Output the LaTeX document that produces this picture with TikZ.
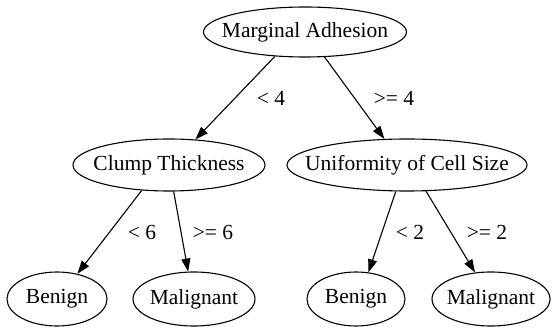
\documentclass[tikz,border=0pt]{standalone}
\usepackage{fontspec}
\setmainfont{Liberation Serif}
\usetikzlibrary{shapes.geometric,arrows.meta}
\begin{document}
\begin{tikzpicture}[x=1pt,y=-1pt,
  every node/.style={font=\fontsize{21.5}{24}\selectfont},
  tnode/.style={draw,ellipse,line width=1.1pt,inner sep=0pt,minimum height=#1},
  tnode/.default=52pt,
  edge/.style={line width=1.1pt,-{Triangle[length=13pt,width=9pt]}},
  lbl/.style={inner sep=0pt}]
\useasboundingbox (0,0) rectangle (552,328);
\node[tnode=50pt,minimum width=203pt] (root) at (305,32) {\makebox[0pt]{Marginal Adhesion}};
\node[tnode,minimum width=192pt] (clump) at (169,165) {\makebox[0pt]{Clump Thickness}};
\node[tnode,minimum width=240pt] (unif) at (407,165) {\makebox[0pt]{Uniformity of Cell Size}};
\node[tnode=54pt,minimum width=100pt] (benL) at (57,299) {\makebox[0pt]{Benign}};
\node[tnode=54pt,minimum width=122pt] (malL) at (194,299) {\makebox[0pt]{Malignant}};
\node[tnode=54pt,minimum width=98pt] (benR) at (356,299) {\makebox[0pt]{Benign}};
\node[tnode=54pt,minimum width=118pt] (malR) at (491,299) {\makebox[0pt]{Malignant}};
\draw[edge] (root.219) -- (clump.44);
\draw[edge] (root.308) -- (unif.131.5);
\draw[edge] (clump.223.3) -- (benL.51);
\draw[edge] (clump.280.7) -- (malL.102.6);
\draw[edge] (unif.247.4) -- (benR.65.4);
\draw[edge] (unif.306) -- (malR.121.6);
\node[lbl] (l1) at (271,98) {< 4};
\node[lbl] (l2) at (394,98) {>= 4};
\node[lbl] (l3) at (142,232) {< 6};
\node[lbl] (l4) at (213,232) {>= 6};
\node[lbl] (l5) at (410,232) {< 2};
\node[lbl] (l6) at (487,232) {>= 2};
\end{tikzpicture}
\end{document}
